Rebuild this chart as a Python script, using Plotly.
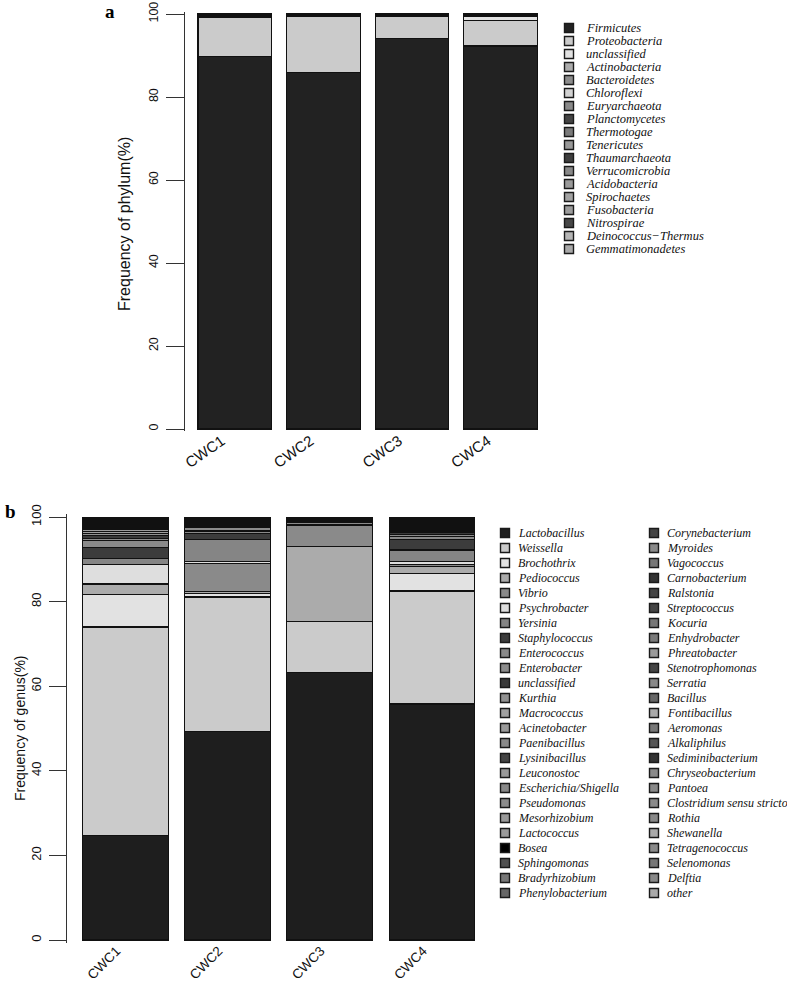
import plotly.graph_objects as go

W, H = 787, 981

samples = ["CWC1", "CWC2", "CWC3", "CWC4"]

# ---- panel a: phylum level ----
phyla = ["Firmicutes", "Proteobacteria", "unclassified", "Actinobacteria", "Bacteroidetes",
         "Chloroflexi", "Euryarchaeota", "Planctomycetes", "Thermotogae", "Tenericutes",
         "Thaumarchaeota", "Verrucomicrobia", "Acidobacteria", "Spirochaetes", "Fusobacteria",
         "Nitrospirae", "Deinococcus\u2212Thermus", "Gemmatimonadetes"]
cwc1_phylum = [89.7, 9.4, 0.3, 0.2, 0.15, 0.05, 0.04, 0.03, 0.02, 0.02, 0.02, 0.02, 0.01, 0.01, 0.01, 0.01, 0.01, 0.01]
cwc2_phylum = [85.8, 13.6, 0.2, 0.15, 0.1, 0.03, 0.02, 0.02, 0.01, 0.01, 0.01, 0.01, 0.01, 0.01, 0.01, 0.01, 0.01, 0.01]
cwc3_phylum = [94.0, 5.5, 0.15, 0.1, 0.1, 0.02, 0.02, 0.02, 0.01, 0.01, 0.01, 0.01, 0.01, 0.01, 0.01, 0.01, 0.01, 0.01]
cwc4_phylum = [92.3, 6.1, 0.9, 0.25, 0.2, 0.04, 0.04, 0.03, 0.02, 0.02, 0.02, 0.01, 0.01, 0.01, 0.01, 0.01, 0.01, 0.01]
phylum_colors = ["#222222", "#cbcbcb", "#e2e2e2", "#ababab", "#8c8c8c", "#d2d2d2", "#8a8a8a", "#444444",
                 "#7a7a7a", "#999999", "#3e3e3e", "#888888", "#9a9a9a", "#a2a2a2", "#9c9c9c", "#474747",
                 "#b5b5b5", "#a8a8a8"]

# ---- panel b: genus level ----
genera = ["Lactobacillus", "Weissella", "Brochothrix", "Pediococcus", "Vibrio", "Psychrobacter",
          "Yersinia", "Staphylococcus", "Enterococcus", "Enterobacter", "unclassified", "Kurthia",
          "Macrococcus", "Acinetobacter", "Paenibacillus", "Lysinibacillus", "Leuconostoc",
          "Escherichia/Shigella", "Pseudomonas", "Mesorhizobium", "Lactococcus", "Bosea",
          "Sphingomonas", "Bradyrhizobium", "Phenylobacterium",
          "Corynebacterium", "Myroides", "Vagococcus", "Carnobacterium", "Ralstonia", "Streptococcus",
          "Kocuria", "Enhydrobacter", "Phreatobacter", "Stenotrophomonas", "Serratia", "Bacillus",
          "Fontibacillus", "Aeromonas", "Alkaliphilus", "Sediminibacterium", "Chryseobacterium",
          "Pantoea", "Clostridium sensu stricto", "Rothia", "Shewanella", "Tetragenococcus",
          "Selenomonas", "Delftia", "other"]
cwc1_genus = [24.8, 49.2, 7.6, 2.4, 0.3, 4.5, 1.4, 2.6, 1.6, 0.6, 0.7, 0.3, 0.5, 0.5, 0.3, 0.2, 0.3,
              0.2, 0.3, 0.1, 0.2, 0.1, 0.1, 0.1, 0.05,
              0.1, 0.08, 0.06, 0.1, 0.05, 0.05, 0.05, 0.04, 0.03, 0.04, 0.04, 0.04, 0.03, 0.03, 0.02,
              0.02, 0.03, 0.03, 0.03, 0.02, 0.02, 0.02, 0.02, 0.02, 0.05]
cwc2_genus = [49.2, 31.9, 0.8, 0.4, 6.8, 0.3, 5.2, 1.4, 0.7, 0.8, 0.3, 0.3, 0.2, 0.2, 0.1, 0.1, 0.1,
              0.1, 0.1, 0.05, 0.1, 0.1, 0.05, 0.05, 0.03,
              0.05, 0.04, 0.03, 0.05, 0.03, 0.03, 0.02, 0.02, 0.02, 0.02, 0.02, 0.03, 0.02, 0.02, 0.01,
              0.01, 0.02, 0.02, 0.02, 0.01, 0.01, 0.01, 0.01, 0.01, 0.03]
cwc3_genus = [63.3, 11.9, 0.05, 17.7, 5.0, 0.05, 0.1, 0.2, 0.3, 0.1, 0.2, 0.05, 0.05, 0.05, 0.05, 0.05, 0.3,
              0.05, 0.05, 0.02, 0.1, 0.05, 0.02, 0.02, 0.01,
              0.02, 0.01, 0.02, 0.02, 0.01, 0.01, 0.01, 0.01, 0.005, 0.005, 0.005, 0.01, 0.005, 0.005, 0.005,
              0.005, 0.005, 0.005, 0.005, 0.005, 0.005, 0.005, 0.005, 0.005, 0.01]
cwc4_genus = [55.8, 26.7, 4.2, 1.5, 0.5, 0.7, 2.8, 2.5, 0.7, 0.4, 0.5, 0.4, 0.3, 0.3, 0.2, 0.2, 0.2,
              0.2, 0.2, 0.1, 0.2, 0.3, 0.2, 0.1, 0.1,
              0.04, 0.03, 0.03, 0.04, 0.02, 0.03, 0.02, 0.02, 0.02, 0.02, 0.02, 0.02, 0.02, 0.02, 0.01,
              0.01, 0.02, 0.02, 0.02, 0.01, 0.01, 0.01, 0.01, 0.01, 0.03]
genus_colors = ["#1e1e1e", "#cbcbcb", "#e2e2e2", "#ababab", "#8a8a8a", "#dedede", "#858585", "#3c3c3c",
                "#8a8a8a", "#8c8c8c", "#3a3a3a", "#919191", "#a0a0a0", "#9a9a9a", "#8a8a8a", "#444444",
                "#999999", "#888888", "#8c8c8c", "#999999", "#9a9a9a", "#000000", "#505050", "#777777",
                "#666666",
                "#444444", "#8a8a8a", "#777777", "#333333", "#444444", "#444444", "#777777", "#7a7a7a",
                "#9a9a9a", "#444444", "#888888", "#666666", "#aaaaaa", "#777777", "#555555", "#333333",
                "#8a8a8a", "#888888", "#8a8a8a", "#888888", "#aaaaaa", "#8a8a8a", "#777777", "#888888",
                "#aaaaaa"]


def px_x(p):
    return p / W


def px_y(p):
    return 1 - p / H


fig = go.Figure()

phylum_table = [cwc1_phylum, cwc2_phylum, cwc3_phylum, cwc4_phylum]
for i, name in enumerate(phyla):
    fig.add_trace(go.Bar(
        x=samples, y=[col[i] for col in phylum_table], name=name, width=0.83,
        marker=dict(color=phylum_colors[i], line=dict(color="#111111", width=1.1)),
        xaxis="x", yaxis="y", showlegend=False))

genus_table = [cwc1_genus, cwc2_genus, cwc3_genus, cwc4_genus]
for i, name in enumerate(genera):
    fig.add_trace(go.Bar(
        x=samples, y=[col[i] for col in genus_table], name=name, width=0.84,
        marker=dict(color=genus_colors[i], line=dict(color="#111111", width=1.1)),
        xaxis="x2", yaxis="y2", showlegend=False))

# legend keys drawn as square markers on their own small axes
fig.add_trace(go.Scatter(
    x=[0] * len(phyla), y=list(range(len(phyla))), mode="markers", cliponaxis=False,
    marker=dict(symbol="square", size=9, color=phylum_colors, line=dict(color="#1a1a1a", width=1.4)),
    xaxis="x3", yaxis="y3", showlegend=False, hoverinfo="skip"))
half = 25
fig.add_trace(go.Scatter(
    x=[i // half for i in range(len(genera))], y=[i % half for i in range(len(genera))],
    mode="markers", cliponaxis=False,
    marker=dict(symbol="square", size=9, color=genus_colors, line=dict(color="#1a1a1a", width=1.4)),
    xaxis="x4", yaxis="y4", showlegend=False, hoverinfo="skip"))

annotations = []
for i, name in enumerate(phyla):
    annotations.append(dict(x=0, y=i, xref="x3", yref="y3", text="<i>%s</i>" % name, showarrow=False,
                            xanchor="left", yanchor="middle", xshift=15,
                            font=dict(family="Liberation Serif", size=12.5, color="#111")))
for i, name in enumerate(genera):
    annotations.append(dict(x=i // half, y=i % half, xref="x4", yref="y4", text="<i>%s</i>" % name,
                            showarrow=False, xanchor="left", yanchor="middle",
                            xshift=11,
                            font=dict(family="Liberation Serif", size=12, color="#111")))

# panel letters and y titles
centered = dict(xref="paper", yref="paper", showarrow=False, xanchor="center", yanchor="middle")
annotations += [
    dict(centered, x=px_x(110), y=px_y(11), text="<b>a</b>",
         font=dict(family="Liberation Serif", size=19, color="#000")),
    dict(centered, x=px_x(10), y=px_y(511), text="<b>b</b>",
         font=dict(family="Liberation Serif", size=19, color="#000")),
    dict(centered, x=px_x(124), y=px_y(224), text="Frequency of phylum(%)", textangle=-90,
         font=dict(family="Liberation Sans", size=16, color="#111")),
    dict(centered, x=px_x(20), y=px_y(728), text="Frequency of genus(%)", textangle=-90,
         font=dict(family="Liberation Sans", size=14, color="#111")),
]

yaxis_style = dict(range=[-0.6, 100.6], tickvals=[0, 20, 40, 60, 80, 100], tickangle=-90,
                   ticks="outside", tickwidth=1.3, tickcolor="#333",
                   showline=True, linecolor="#333", linewidth=1.3, showgrid=False, zeroline=False,
                   ticklabelstandoff=3, automargin=False)
xaxis_style = dict(type="category", ticks="", showline=False, showgrid=False,
                   zeroline=False, automargin=False)

# panel a: 100 at y=14px, 0 at y=429px
a_unit = (429 - 14) / 100
# panel b: 100 at y=517px, 0 at y=940px
b_unit = (940 - 517) / 100

fig.update_layout(
    template="none",
    width=W, height=H, margin=dict(l=0, r=0, t=0, b=0, autoexpand=False),
    paper_bgcolor="white", plot_bgcolor="white", barmode="stack", showlegend=False,
    xaxis=dict(xaxis_style, domain=[px_x(185), px_x(545)], range=[-0.562, 3.5], anchor="y",
               tickangle=-35, ticklabelshift=-13, ticklabelstandoff=-3,
               tickfont=dict(family="Liberation Sans", size=15, color="#111")),
    yaxis=dict(yaxis_style, domain=[px_y(429 + 0.6 * a_unit), px_y(14 - 0.6 * a_unit)], anchor="x",
               ticklen=18, tickfont=dict(family="Liberation Sans", size=12.5, color="#111")),
    xaxis2=dict(xaxis_style, domain=[px_x(67), px_x(480)], range=[-0.572, 3.47], anchor="y2",
                tickangle=-45, ticklabelshift=-9, ticklabelstandoff=-3,
                tickfont=dict(family="Liberation Sans", size=13.5, color="#111")),
    yaxis2=dict(yaxis_style, domain=[px_y(940 + 0.6 * b_unit), px_y(517 - 0.6 * b_unit)], anchor="x2",
                ticklen=17, tickfont=dict(family="Liberation Sans", size=13, color="#111")),
    xaxis3=dict(domain=[px_x(569), px_x(669)], range=[0, 1], visible=False, anchor="y3"),
    yaxis3=dict(domain=[px_y(28 + 13 * 17.5), px_y(28 - 13 * 0.5)], range=[17.5, -0.5],
                visible=False, anchor="x3"),
    xaxis4=dict(domain=[px_x(505), px_x(654)], range=[0, 1], visible=False, anchor="y4"),
    yaxis4=dict(domain=[px_y(533 + 15 * 24.5), px_y(533 - 15 * 0.5)], range=[24.5, -0.5],
                visible=False, anchor="x4"),
    annotations=annotations,
)

# drop the default page margin so the figure sits at the top-left corner of the window
fig.write_html("out.html", config={"displayModeBar": False},
               post_script="document.body.style.margin='0';")
